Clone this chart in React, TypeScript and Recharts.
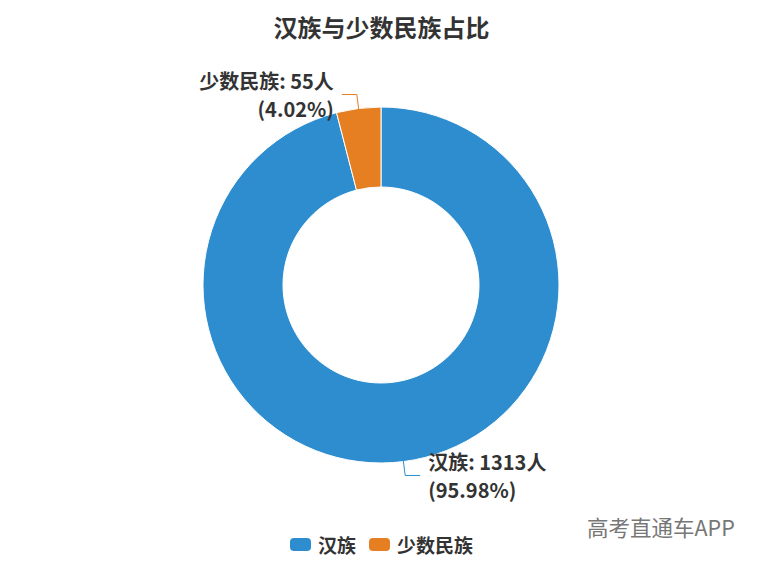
import { PieChart, Pie, Cell, Legend } from 'recharts';

const groups = ['汉族', '少数民族'];
const counts = [1313, 55];
const colors = ['#2E8DCE', '#E67E22'];

const data = groups.map((name, i) => ({ name, value: counts[i] }));
const total = counts.reduce((a, b) => a + b, 0);

const FONT = '"Noto Sans CJK SC", "Noto Sans", sans-serif';
const RAD = Math.PI / 180;

function renderLabel(props: any) {
  const { cx, cy, midAngle, outerRadius, name, value, index } = props;
  const cos = Math.cos(-midAngle * RAD);
  const sin = Math.sin(-midAngle * RAD);
  const sx = cx + (outerRadius - 4) * cos;
  const sy = cy + (outerRadius - 4) * sin;
  const mx = cx + (outerRadius + 14) * cos;
  const my = cy + (outerRadius + 14) * sin;
  const right = cos >= 0;
  const ex = mx + (right ? 15 : -15);
  const tx = ex + (right ? 8 : -8);
  const anchor = right ? 'start' : 'end';
  const pct = ((value / total) * 100).toFixed(2);
  return (
    <g key={`lbl-${index}`}>
      <polyline points={`${sx},${sy} ${mx},${my} ${ex},${my}`} fill="none" stroke={colors[index]} strokeWidth={1} />
      <text x={tx} y={my - 14} textAnchor={anchor} dominantBaseline="central" fill="#333" fontSize={20} fontWeight="bold" fontFamily={FONT}>
        {`${name}: ${value}人`}
      </text>
      <text x={tx} y={my + 14} textAnchor={anchor} dominantBaseline="central" fill="#333" fontSize={20} fontWeight="bold" fontFamily={FONT}>
        {`(${pct}%)`}
      </text>
    </g>
  );
}

function LegendContent() {
  return (
    <div style={{ display: 'flex', justifyContent: 'center', alignItems: 'center', gap: 13, fontFamily: FONT }}>
      {groups.map((g, i) => (
        <div key={g} style={{ display: 'flex', alignItems: 'center' }}>
          <span style={{ display: 'inline-block', width: 21, height: 13, borderRadius: 4, background: colors[i], marginRight: 7 }} />
          <span style={{ fontSize: 19, fontWeight: 'bold', color: '#333' }}>{g}</span>
        </div>
      ))}
    </div>
  );
}

export default function App() {
  return (
    <div style={{ position: 'absolute', left: 0, top: 0, width: 763, height: 572, background: '#fff' }}>
      <div style={{ position: 'absolute', top: 9, left: 0, width: 763, textAlign: 'center', fontFamily: FONT, fontSize: 24, fontWeight: 'bold', color: '#333' }}>
        汉族与少数民族占比
      </div>
      <div style={{ position: 'absolute', top: 511, left: 587, fontFamily: FONT, fontSize: 21.5, color: '#777' }}>
        高考直通车APP
      </div>
      <PieChart width={763} height={572} margin={{ top: 0, right: 0, bottom: 0, left: 0 }}>
        <Pie
          data={data}
          dataKey="value"
          nameKey="name"
          cx={381}
          cy={285}
          innerRadius={98}
          outerRadius={178}
          startAngle={90}
          endAngle={-270}
          stroke="#fff"
          strokeWidth={1}
          label={renderLabel}
          labelLine={false}
          isAnimationActive={false}
        >
          {data.map((d, i) => (
            <Cell key={d.name} fill={colors[i]} />
          ))}
        </Pie>
        <Legend content={<LegendContent />} wrapperStyle={{ position: 'absolute', top: 531, left: 0, width: 763 }} />
      </PieChart>
    </div>
  );
}
